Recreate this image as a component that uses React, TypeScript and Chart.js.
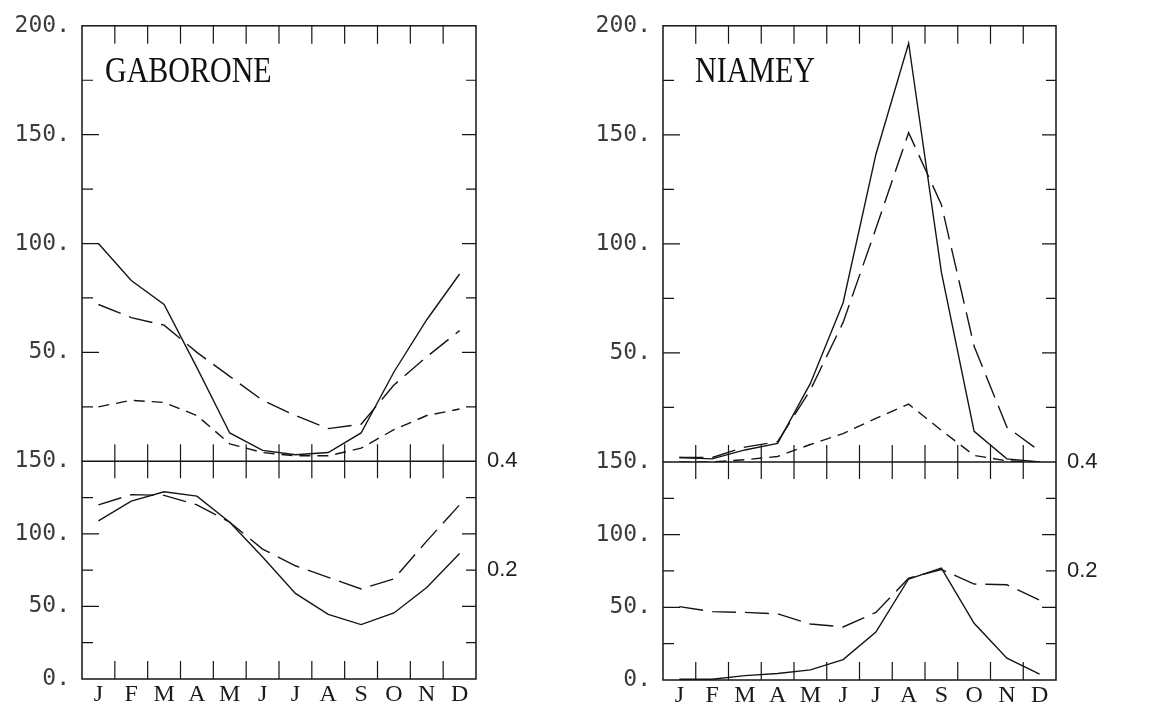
import React, { useEffect, useRef } from "react";
import { Chart, registerables } from "chart.js";

Chart.register(...registerables);

// ---------- data ----------
const months = ["J", "F", "M", "A", "M", "J", "J", "A", "S", "O", "N", "D"];

const upperLabelValues = [50, 100, 150, 200];
const lowerLabelValues = [0, 50, 100, 150];
const rightLabelValues = [0.2, 0.4];

// GABORONE – upper panel (0–200)
const gabUpperSolid = [100, 83, 72, 43, 13, 5, 3, 4, 13, 41, 65, 86];
const gabUpperLong = [72, 66, 62.5, 50, 39, 28, 21, 15, 17, 35, 48, 60];
const gabUpperShort = [25, 28, 27, 21, 8, 4, 2.5, 2.5, 6, 14.5, 21, 24];
// GABORONE – lower panel (0–150)
const gabLowerSolid = [109, 122.5, 129, 126, 108, 84, 59, 44.5, 37.5, 45.5, 63, 86.5];
const gabLowerLong = [120, 127, 126.5, 120, 108, 89.5, 78, 70, 62, 69, 95, 120];

// NIAMEY – upper panel (0–200)
const niaUpperSolid = [2, 1.4, 5.5, 8.5, 36, 73, 141, 192, 87, 14, 1.4, 0];
const niaUpperLong = [2, 2, 6.8, 9.3, 33, 64, 107, 151, 118, 53, 16, 5];
const niaUpperShort = [0, 0, 1, 2.5, 8, 13, 20, 26.5, 14.5, 3, 0.5, 0];
// NIAMEY – lower panel (0–150)
const niaLowerSolid = [0.5, 0.5, 3, 4.5, 7, 14, 33, 69.5, 77, 39, 15, 4];
const niaLowerLong = [50.5, 47, 46.5, 45.5, 38.5, 36.5, 46.5, 70, 76, 66, 65.5, 55];

// ---------- styling ----------
const W = 581;
const H = 706;
const INK = "#151515";
const LONG = [24, 9];
const SHORT = [11, 7];

type PanelProps = {
  title: string;
  titleDx: number;
  left: number;
  right: number;
  top: number;
  bottom: number;
  upper: number[][];
  lower: number[][];
};

const near = (a: number, list: number[]) => list.some((b) => Math.abs(a - b) < 1e-6);

const framePlugin = (p: PanelProps) => ({
  id: "frame",
  afterDraw(chart: any) {
    const ctx = chart.ctx as CanvasRenderingContext2D;
    const a = chart.chartArea;
    const yU = chart.scales.yU;
    const yL = chart.scales.yL;
    const x = chart.scales.x;
    const sep = yL.getPixelForValue(150);
    ctx.save();
    ctx.strokeStyle = INK;
    ctx.lineWidth = 1.5;
    ctx.setLineDash([]);
    ctx.strokeRect(a.left, a.top, a.right - a.left, a.bottom - a.top);
    ctx.beginPath();
    ctx.moveTo(a.left, sep);
    ctx.lineTo(a.right, sep);
    ctx.stroke();

    ctx.lineWidth = 1.2;
    const drawY = (scale: any, skip: number[]) => {
      scale.ticks.forEach((t: any) => {
        if (near(t.value, skip)) return;
        const py = scale.getPixelForValue(t.value);
        const major = Math.abs(t.value % 50) < 1e-6;
        ctx.beginPath();
        ctx.moveTo(a.left, py);
        ctx.lineTo(a.left + (major ? 17 : 11), py);
        ctx.moveTo(a.right, py);
        ctx.lineTo(a.right - (major ? 14 : 10), py);
        ctx.stroke();
      });
    };
    drawY(yU, [0, 200]);
    drawY(yL, [0, 150]);

    const p0 = x.getPixelForValue(0);
    const step = x.getPixelForValue(1) - p0;
    for (let k = 1; k < months.length; k++) {
      const px = p0 + (k - 0.5) * step;
      ctx.beginPath();
      ctx.moveTo(px, a.top);
      ctx.lineTo(px, a.top + 18);
      ctx.moveTo(px, a.bottom);
      ctx.lineTo(px, a.bottom - 18);
      ctx.moveTo(px, sep - 17);
      ctx.lineTo(px, sep + 17);
      ctx.stroke();
    }

    ctx.fillStyle = "#111";
    ctx.font = '30px "Liberation Serif", serif';
    ctx.textBaseline = "alphabetic";
    ctx.textAlign = "left";
    ctx.translate(a.left + p.titleDx, a.top + 56);
    ctx.scale(1, 1.18);
    ctx.fillText(p.title, 0, 0);
    ctx.restore();
  },
});

function makeConfig(p: PanelProps): any {
  const mk = (data: number[], yAxisID: string, dash: number[]) => ({
    data,
    yAxisID,
    borderColor: INK,
    borderWidth: 1.4,
    borderDash: dash,
    pointRadius: 0,
    fill: false,
    tension: 0,
  });
  const leftTicks = (vals: number[]) => ({
    stepSize: 25,
    autoSkip: false,
    padding: 12,
    color: "#3c3c3c",
    font: { family: '"DejaVu Sans Mono", monospace', size: 23 },
    callback: (v: number) => (near(v, vals) ? `${v}.` : ""),
  });
  const noGrid = { display: false, drawTicks: false };
  return {
    type: "line",
    data: {
      labels: months,
      datasets: [
        mk(p.upper[0], "yU", []),
        mk(p.upper[1], "yU", LONG),
        mk(p.upper[2], "yU", SHORT),
        mk(p.lower[0], "yL", []),
        mk(p.lower[1], "yL", LONG),
      ],
    },
    options: {
      animation: false,
      responsive: false,
      events: [],
      layout: { padding: { top: p.top, left: 0, right: 0, bottom: 0 } },
      plugins: { legend: { display: false }, tooltip: { enabled: false }, title: { display: false } },
      scales: {
        x: {
          type: "category",
          offset: true,
          grid: noGrid,
          border: { display: false },
          ticks: {
            autoSkip: false,
            maxRotation: 0,
            padding: 4,
            color: "#1a1a1a",
            font: { family: '"Liberation Serif", serif', size: 24, lineHeight: 1 },
          },
          afterFit: (s: any) => {
            s.height = H - p.bottom;
          },
        },
        yU: {
          type: "linear",
          position: "left",
          stack: "L",
          stackWeight: 2,
          weight: 1,
          min: 0,
          max: 200,
          grid: noGrid,
          border: { display: false },
          ticks: leftTicks(upperLabelValues),
          afterFit: (s: any) => {
            s.width = p.left;
          },
        },
        yL: {
          type: "linear",
          position: "left",
          stack: "L",
          stackWeight: 1,
          weight: 0,
          min: 0,
          max: 150,
          grid: noGrid,
          border: { display: false },
          ticks: leftTicks(lowerLabelValues),
          afterFit: (s: any) => {
            s.width = p.left;
          },
        },
        yRU: {
          type: "linear",
          position: "right",
          stack: "R",
          stackWeight: 2,
          weight: 0,
          min: 0,
          max: 200,
          grid: noGrid,
          border: { display: false },
          ticks: { display: false },
          afterFit: (s: any) => {
            s.width = W - p.right;
          },
        },
        yRL: {
          type: "linear",
          position: "right",
          stack: "R",
          stackWeight: 1,
          weight: 1,
          min: 0,
          max: 0.4,
          grid: noGrid,
          border: { display: false },
          ticks: {
            stepSize: 0.2,
            autoSkip: false,
            padding: 11,
            color: "#222",
            font: { family: '"Liberation Sans", sans-serif', size: 22 },
            callback: (v: number) => (near(v, rightLabelValues) ? v.toFixed(1) : ""),
          },
          afterFit: (s: any) => {
            s.width = W - p.right;
          },
        },
      },
    },
    plugins: [framePlugin(p)],
  };
}

function Panel(props: PanelProps & { x: number }) {
  const ref = useRef<HTMLCanvasElement | null>(null);
  useEffect(() => {
    if (!ref.current) return;
    const chart = new Chart(ref.current, makeConfig(props));
    return () => chart.destroy();
  }, []);
  return (
    <div style={{ position: "absolute", left: props.x, top: 0, width: W, height: H }}>
      <canvas ref={ref} width={W} height={H} style={{ display: "block", width: W, height: H }} />
    </div>
  );
}

export default function App() {
  return (
    <div style={{ position: "fixed", left: 0, top: 0, width: 1162, height: 706, background: "#fff", overflow: "hidden" }}>
      <Panel
        x={0}
        title="GABORONE"
        titleDx={23}
        left={82}
        right={476}
        top={23}
        bottom={679}
        upper={[gabUpperSolid, gabUpperLong, gabUpperShort]}
        lower={[gabLowerSolid, gabLowerLong]}
      />
      <Panel
        x={581}
        title="NIAMEY"
        titleDx={32}
        left={82}
        right={475}
        top={25}
        bottom={680}
        upper={[niaUpperSolid, niaUpperLong, niaUpperShort]}
        lower={[niaLowerSolid, niaLowerLong]}
      />
    </div>
  );
}
